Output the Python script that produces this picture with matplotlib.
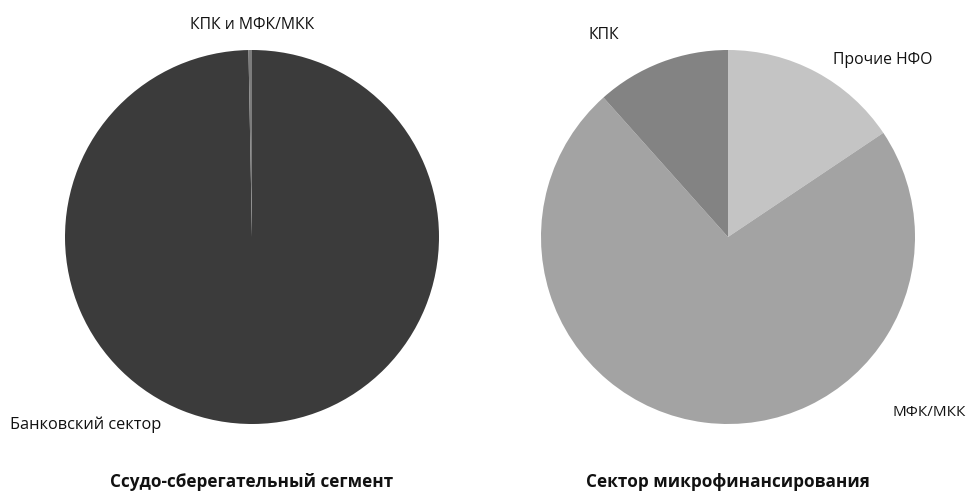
import matplotlib.pyplot as plt

plt.rcParams['font.family'] = ['Open Sans', 'DejaVu Sans']

# Ссудо-сберегательный сегмент
left_labels = ['Банковский сектор', 'КПК и МФК/МКК']
left_values = [99.7, 0.3]
left_colors = ['#3b3b3b', '#7c7c7c']

# Сектор микрофинансирования
right_labels = ['Прочие НФО', 'МФК/МКК', 'КПК']
right_values = [15.6, 72.8, 11.6]
right_colors = ['#c4c4c4', '#a3a3a3', '#838383']

titles = ['Ссудо-сберегательный сегмент', 'Сектор микрофинансирования']

W, H = 976, 494
fig = plt.figure(figsize=(W / 100, H / 100), dpi=100)

def px_axes(cx, cy, r):
    return fig.add_axes([(cx - r) / W, (H - cy - r) / H, 2 * r / W, 2 * r / H])

ax1 = px_axes(252, 237, 187)
ax2 = px_axes(728, 237, 187)

# left pie: tiny slice sits just left of 12 o'clock
ax1.pie(left_values, colors=left_colors, startangle=90, counterclock=False,
        radius=1, wedgeprops=dict(linewidth=0))
ax2.pie(right_values, colors=right_colors, startangle=90, counterclock=False,
        radius=1, wedgeprops=dict(linewidth=0))
for ax in (ax1, ax2):
    ax.set_xlim(-1, 1)
    ax.set_ylim(-1, 1)
    ax.set_aspect('auto')
    ax.axis('off')

def label(x, y, s, ha='left', size=11.3, **kw):
    fig.text(x / W, 1 - y / H, s, ha=ha, va='center', fontsize=size, color='#111111', **kw)

label(252, 25, left_labels[1], ha='center')
label(10, 425, left_labels[0], size=11.8)
label(588, 35, right_labels[2])
label(833, 60, right_labels[0])
label(893, 413, right_labels[1], size=11)

label(252, 482, titles[0], ha='center', size=12.3, fontweight='bold')
label(728, 482, titles[1], ha='center', size=12.3, fontweight='bold')

fig.savefig('out.png', dpi=100, facecolor='white')
